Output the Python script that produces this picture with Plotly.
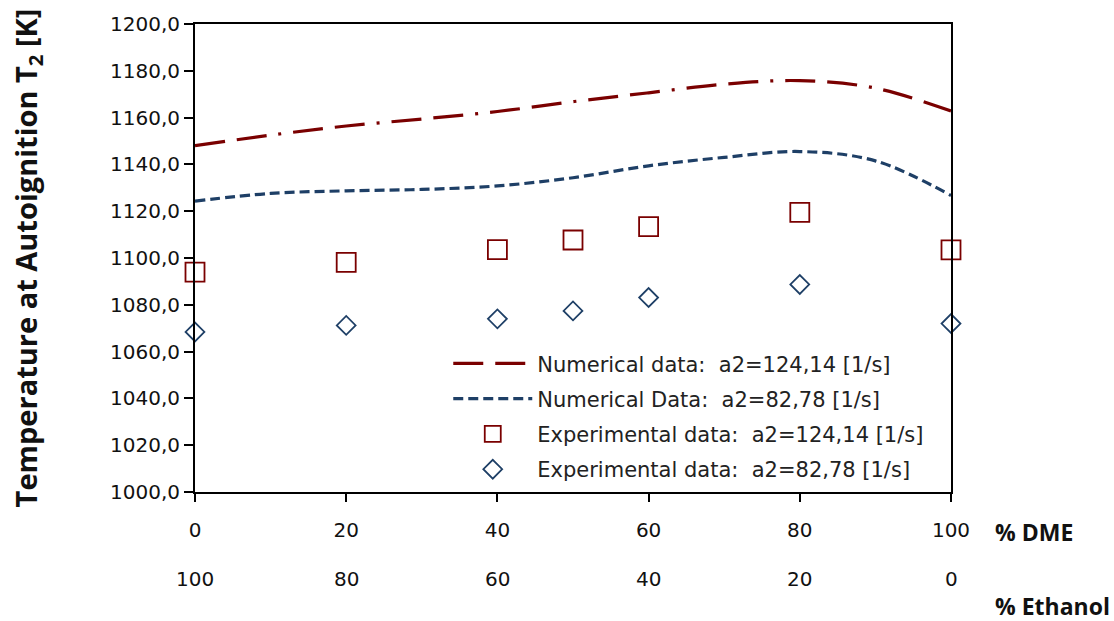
import plotly.graph_objects as go

# Data
dme_curve = [0, 10, 20, 30, 40, 50, 60, 70, 80, 90, 100]
num_a2_124 = [1148.0, 1152.5, 1156.4, 1159.4, 1162.6, 1166.8, 1170.6, 1174.3, 1175.8, 1172.6, 1162.8]
num_a2_83 = [1124.3, 1127.6, 1128.7, 1129.3, 1130.8, 1134.3, 1139.4, 1143.0, 1145.5, 1141.5, 1126.7]

dme_exp = [0, 20, 40, 50, 60, 80, 100]
exp_a2_124 = [1094.0, 1098.1, 1103.6, 1107.7, 1113.4, 1119.5, 1103.5]
exp_a2_83 = [1068.4, 1071.2, 1074.0, 1077.4, 1083.1, 1088.7, 1072.0]

dme_ticks = [0, 20, 40, 60, 80, 100]
dme_labels = ["0", "20", "40", "60", "80", "100"]
ethanol_labels = ["100", "80", "60", "40", "20", "0"]
y_ticks = [1000, 1020, 1040, 1060, 1080, 1100, 1120, 1140, 1160, 1180, 1200]
y_labels = [f"{v},0" for v in y_ticks]

names = [
    "Numerical data:  a2=124,14 [1/s]",
    "Numerical Data:  a2=82,78 [1/s]",
    "Experimental data:  a2=124,14 [1/s]",
    "Experimental data:  a2=82,78 [1/s]",
]

RED = "#7A0000"
BLUE = "#1E3F66"

fig = go.Figure()
fig.add_trace(go.Scatter(
    x=dme_curve, y=num_a2_124, mode="lines", name=names[0], legendgroup="a",
    line=dict(color=RED, width=3.2, shape="spline", smoothing=1.0,
              dash="30px,12px,30px,12px,3px,12px"),
))
fig.add_trace(go.Scatter(
    x=dme_curve, y=num_a2_83, mode="lines", name=names[1], legendgroup="b",
    line=dict(color=BLUE, width=3.2, shape="spline", smoothing=1.0, dash="10px,5px"),
))
fig.add_trace(go.Scatter(
    x=dme_exp, y=exp_a2_124, mode="markers", name=names[2], legendgroup="c",
    cliponaxis=False,
    marker=dict(symbol="square-open", size=19, color=RED, line=dict(width=1.8, color=RED)),
))
fig.add_trace(go.Scatter(
    x=dme_exp, y=exp_a2_83, mode="markers", name=names[3], legendgroup="d",
    cliponaxis=False,
    marker=dict(symbol="diamond-open", size=14.5, color=BLUE, line=dict(width=1.8, color=BLUE)),
))

tick_font = dict(family="DejaVu Sans", size=20, color="#111111")

fig.update_layout(
    width=1114, height=621,
    margin=dict(l=195, r=163, t=18, b=129),
    paper_bgcolor="white", plot_bgcolor="white",
    showlegend=True,
    legend=dict(
        x=0.335, y=0.318, xanchor="left", yanchor="top",
        font=dict(family="DejaVu Sans", size=21, color="#222222"),
        bgcolor="rgba(255,255,255,0)", tracegroupgap=5,
        itemwidth=79,
    ),
    xaxis=dict(
        range=[0, 100], tickvals=dme_ticks, ticktext=dme_labels,
        showline=True, linecolor="black", linewidth=2, mirror=True,
        ticks="outside", ticklen=8, tickwidth=2, tickcolor="black",
        ticklabelstandoff=11,
        showgrid=False, zeroline=False, tickfont=tick_font,
    ),
    yaxis=dict(
        range=[1000, 1200], tickvals=y_ticks, ticktext=y_labels,
        showline=True, linecolor="black", linewidth=2, mirror=True,
        ticks="outside", ticklen=9, tickwidth=2, tickcolor="black",
        showgrid=False, zeroline=False, tickfont=tick_font,
        title=dict(text="Temperature at Autoignition T<sub>2</sub> [K]",
                   font=dict(family="Open Sans", size=29, color="#111111", weight="bold"),
                   standoff=64),
    ),
)

for xv, lab in zip(dme_ticks, ethanol_labels):
    fig.add_annotation(x=xv, y=-0.186, xref="x", yref="paper", text=lab,
                       showarrow=False, font=tick_font, xanchor="center", yanchor="middle")

lab_font = dict(family="Open Sans", size=23, color="#111111", weight="bold")
fig.add_annotation(x=1.0556, y=-0.0865, xref="paper", yref="paper", text="% DME",
                   showarrow=False, font=lab_font, xanchor="left", yanchor="middle")
fig.add_annotation(x=1.0556, y=-0.2426, xref="paper", yref="paper", text="% Ethanol",
                   showarrow=False, font=lab_font, xanchor="left", yanchor="middle")

fig.write_html("out.html")
